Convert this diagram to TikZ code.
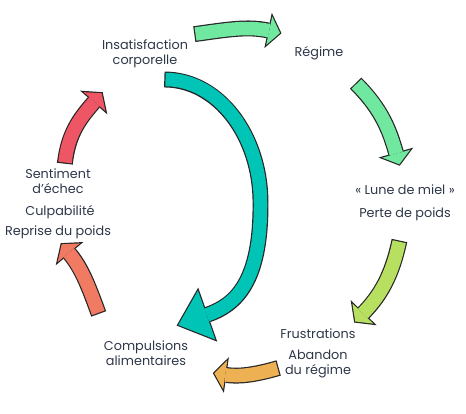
\documentclass[tikz,border=0pt]{standalone}
\usepackage{fontspec}
\setmainfont{Poppins}
\usetikzlibrary{arrows.meta}

\definecolor{mint}{RGB}{112,232,160}
\definecolor{lime}{RGB}{184,224,96}
\definecolor{amber}{RGB}{237,176,82}
\definecolor{salmon}{RGB}{240,122,98}
\definecolor{rose}{RGB}{238,85,101}
\definecolor{lagoon}{RGB}{0,196,182}
\definecolor{ink}{RGB}{45,55,72}

\begin{document}
\begin{tikzpicture}[x=1pt,y=1pt,
    txt/.style={text=ink, font=\fontsize{12.8}{15}\selectfont, align=center, inner sep=0pt},
    rim/.style={draw=black!85, line width=15.9pt, shorten <=-1.2pt, shorten >=-1.5pt,
        -{Triangle[length=13.7pt, width=36.1pt, line width=0pt]}},
    band/.style={draw=#1, line width=13.5pt,
        -{Triangle[length=11pt, width=29pt, line width=0pt]}},
    bigrim/.style={rim, shorten >=-1.8pt,
        -{Triangle[length=33pt, width=57.3pt, line width=0pt]}},
    bigband/.style={band=#1,
        -{Triangle[length=30pt, width=52pt, line width=0pt]}}]
    \useasboundingbox (0,0) rectangle (466,413);

    % Stages of the cycle
    \node[txt] (insat) at (145,359) {Insatisfaction\\corporelle};
    \node[txt] (regime) at (319,360) {Régime};
    \node[txt] (lune) at (405,223) {« Lune de miel »};
    \node[txt] (perte) at (405,199) {Perte de poids};
    \node[txt] (frustr) at (318,79.5) {Frustrations};
    \node[txt] (abandon) at (318,49) {Abandon\\du régime};
    \node[txt] (compuls) at (146,59.5) {Compulsions\\alimentaires};
    \node[txt] (echec) at (58,231.7) {Sentiment\\d’échec};
    \node[txt] (culpa) at (60,201.3) {Culpabilité};
    \node[txt] (reprise) at (58,180.3) {Reprise du poids};

    % Arrow ends
    \coordinate (a1s) at (195.5,379);  \coordinate (a1e) at (280,380);
    \coordinate (a2s) at (356.5,329);  \coordinate (a2e) at (399.3,248.7);
    \coordinate (a3s) at (399.2,171.3); \coordinate (a3e) at (355.2,91.5);
    \coordinate (a4s) at (277.5,44.7);  \coordinate (a4e) at (214.3,39.7);
    \coordinate (a5s) at (98.3,100.2);  \coordinate (a5e) at (61.7,168.7);
    \coordinate (a6s) at (65,250.5);    \coordinate (a6e) at (101.7,319.7);
    \coordinate (t0) at (165.5,333.5);  \coordinate (t1) at (260.5,210);
    \coordinate (t2) at (178.3,88);

    % Outer cycle
    \foreach \s/\e/\o/\i/\c in {a1s/a1e/8/168/mint, a2s/a2e/-45/106/mint,
        a3s/a3e/-102/46/lime, a4s/a4e/196/-8/amber,
        a5s/a5e/110/-50/salmon, a6s/a6e/84/229/rose}{
        \draw[rim] (\s) to[out=\o,in=\i] (\e);
        \draw[band=\c] (\s) to[out=\o,in=\i] (\e);
    }

    % Short cut to the compulsions
    \draw[bigrim] (t0) .. controls (218,333.5) and (260.5,278) .. (t1)
        .. controls (261,130) and (235,108) .. (t2);
    \draw[bigband=lagoon] (t0) .. controls (218,333.5) and (260.5,278) .. (t1)
        .. controls (261,130) and (235,108) .. (t2);
\end{tikzpicture}
\end{document}
